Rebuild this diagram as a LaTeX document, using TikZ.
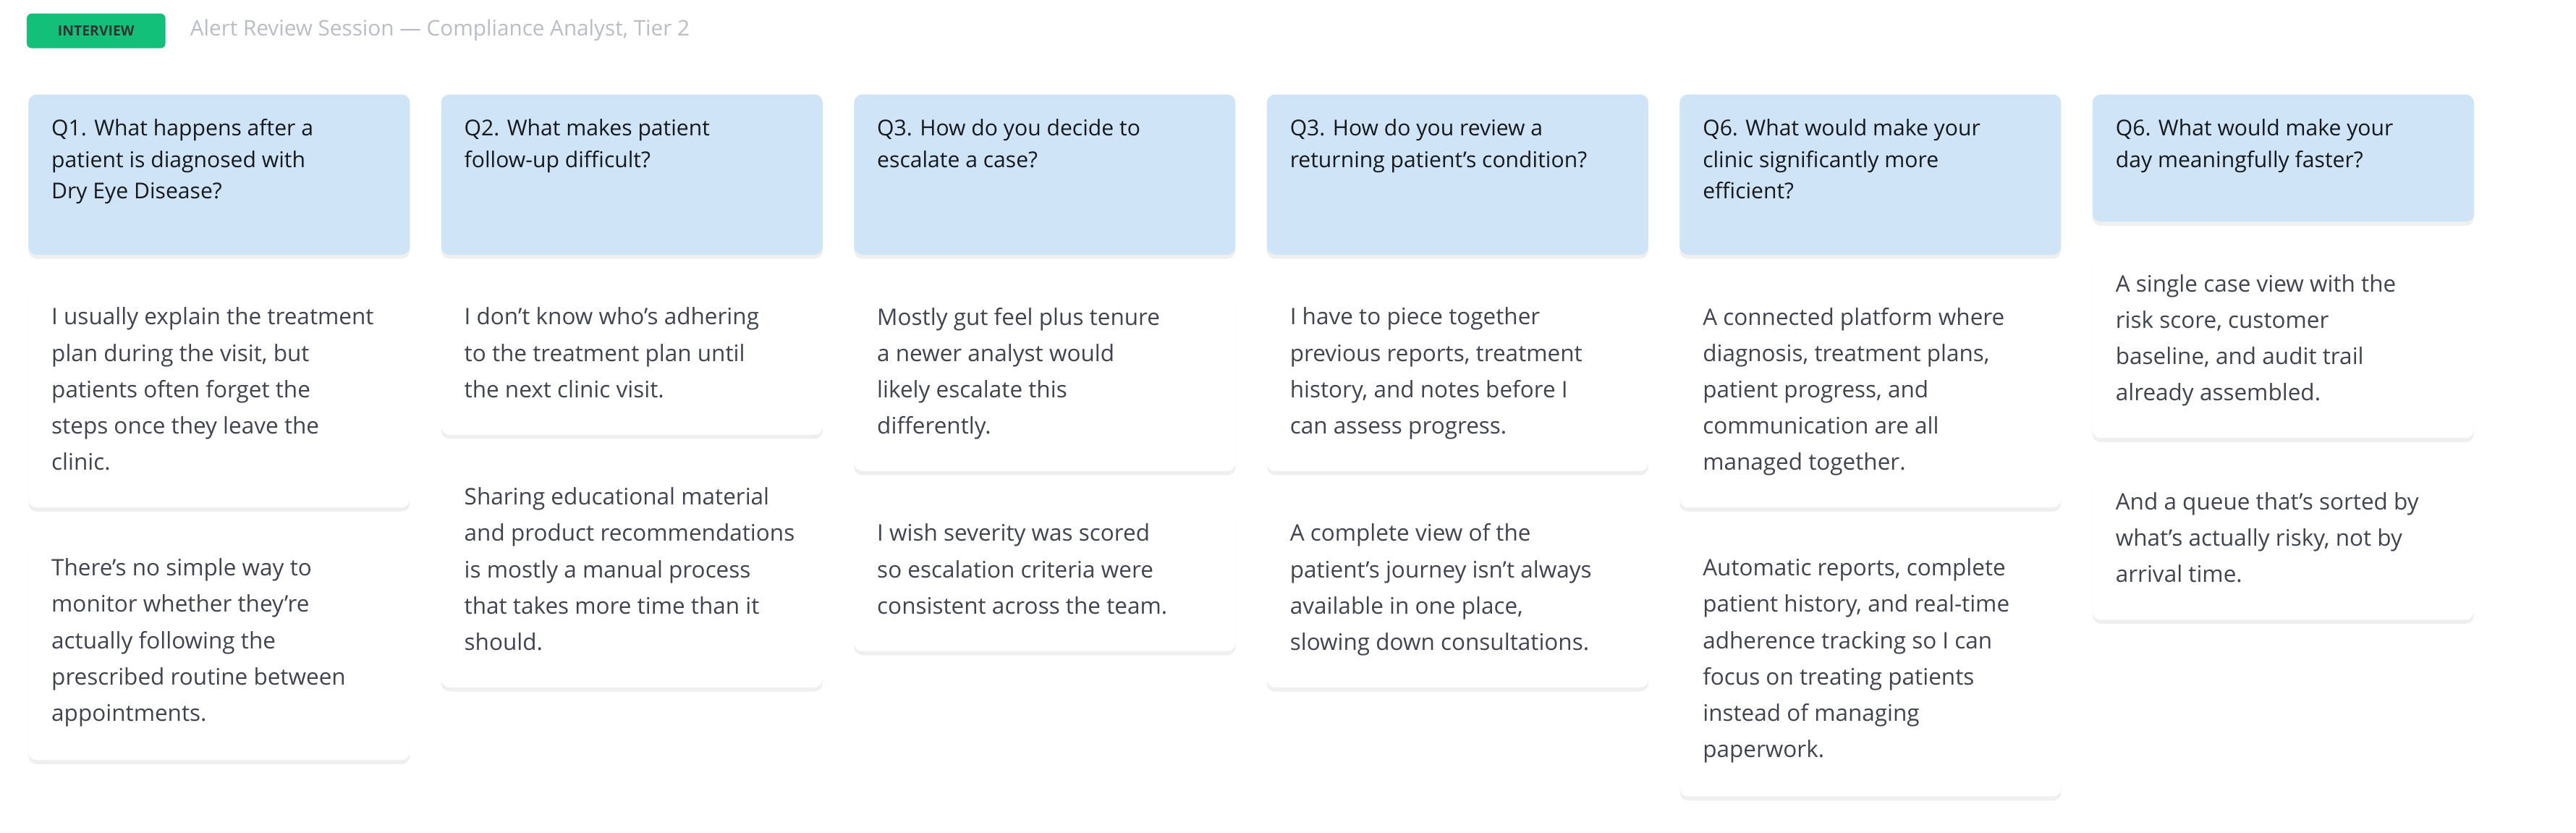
\documentclass[tikz,border=0pt]{standalone}
\usepackage{fontspec}
\setmainfont{Open Sans}
\usetikzlibrary{shadows}
\definecolor{qfill}{HTML}{CFE4F7}
\definecolor{atext}{HTML}{3F4450}
\definecolor{qtextc}{HTML}{15181D}
\definecolor{badge}{HTML}{13C07A}
\definecolor{titlec}{HTML}{B8BDC6}
\begin{document}
\begin{tikzpicture}[x=1pt,y=-1pt,
  box/.style={rounded corners=5pt, minimum width=231pt, inner sep=0pt, anchor=north west,
    drop shadow={opacity=0.12, shadow xshift=0pt, shadow yshift=-2.5pt}},
  qbox/.style={box, fill=qfill},
  abox/.style={box, fill=white},
  qtext/.style={anchor=north west, align=left, inner sep=0pt, font=\fontsize{13.2}{19}\selectfont, text=qtextc},
  atext/.style={anchor=north west, align=left, inner sep=0pt, font=\fontsize{13.8}{22}\selectfont, text=atext}]
\useasboundingbox[fill=white] (0,0) rectangle (1560,504);
\node[fill=badge, rounded corners=3pt, minimum width=84pt, minimum height=21pt, inner sep=0pt, anchor=north west,
  font=\fontsize{8.5}{10}\selectfont\bfseries, text=black!80] (badge) at (16,8) {INTERVIEW};
\node[anchor=west, inner sep=0pt, font=\fontsize{13}{15}\selectfont, text=titlec] (title) at (115,18.5) {Alert Review Session — Compliance Analyst, Tier 2};
% questions
\foreach \n/\x/\h/\t in {
 1/17/97/{Q1. What happens after a\\patient is diagnosed with\\Dry Eye Disease?},
 2/267/97/{Q2. What makes patient\\follow-up difficult?},
 3/517/97/{Q3. How do you decide to\\escalate a case?},
 4/767/97/{Q3. How do you review a\\returning patient's condition?},
 5/1017/97/{Q6. What would make your\\clinic significantly more\\efficient?},
 6/1267/77/{Q6. What would make your\\day meaningfully faster?}}{
 \node[qbox, minimum height=\h pt] (q\n) at (\x,57) {};
 \node[qtext] (q\n t) at (\x+14,72) {\t};
}
% answers
\foreach \n/\x/\y/\h/\t in {
 1a/17/174/133/{I usually explain the treatment\\plan during the visit, but\\patients often forget the\\steps once they leave the\\clinic.},
 1b/17/326/134/{There's no simple way to\\monitor whether they're\\actually following the\\prescribed routine between\\appointments.},
 2a/267/174/89/{I don't know who's adhering\\to the treatment plan until\\the next clinic visit.},
 2b/267/283/133/{Sharing educational material\\and product recommendations\\is mostly a manual process\\that takes more time than it\\should.},
 3a/517/174/111/{Mostly gut feel plus tenure\\a newer analyst would\\likely escalate this\\differently.},
 3b/517/305/89/{I wish severity was scored\\so escalation criteria were\\consistent across the team.},
 4a/767/174/111/{I have to piece together\\previous reports, treatment\\history, and notes before I\\can assess progress.},
 4b/767/305/111/{A complete view of the\\patient's journey isn't always\\available in one place,\\slowing down consultations.},
 5a/1017/174/133/{A connected platform where\\diagnosis, treatment plans,\\patient progress, and\\communication are all\\managed together.},
 5b/1017/326/156/{Automatic reports, complete\\patient history, and real-time\\adherence tracking so I can\\focus on treating patients\\instead of managing\\paperwork.},
 6a/1267/154/111/{A single case view with the\\risk score, customer\\baseline, and audit trail\\already assembled.},
 6b/1267/286/89/{And a queue that's sorted by\\what's actually risky, not by\\arrival time.}}{
 \node[abox, minimum height=\h pt] (a\n) at (\x,\y) {};
 \node[atext] (a\n t) at (\x+14,\y+12) {\t};
}
\end{tikzpicture}
\end{document}
